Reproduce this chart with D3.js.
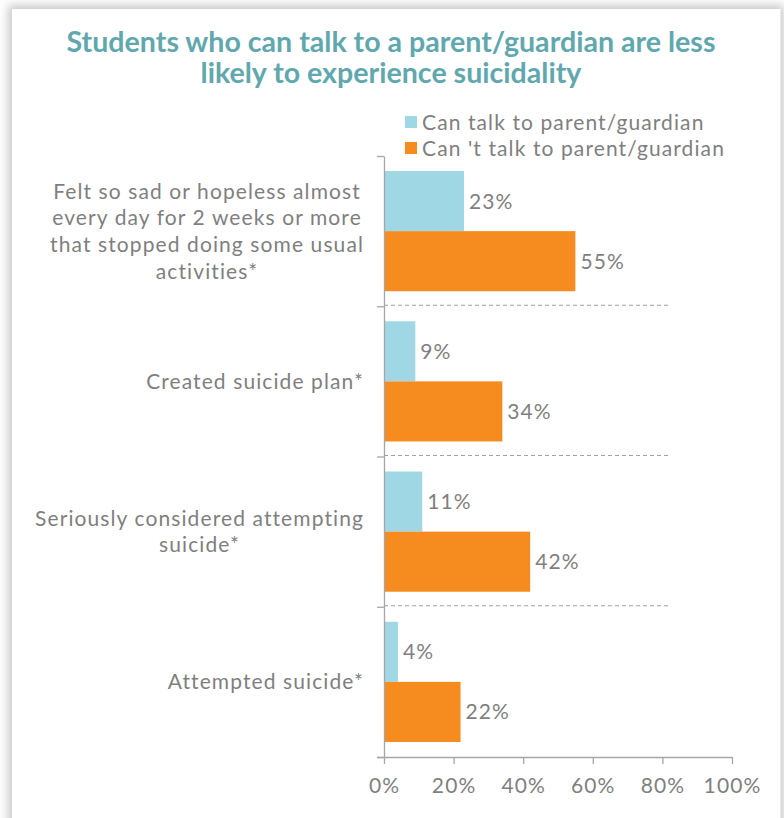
<!DOCTYPE html>
<html>
<head>
<meta charset="utf-8">
<script src="https://cdn.jsdelivr.net/npm/d3@7"></script>
<style>
  html, body { margin: 0; padding: 0; background: #ffffff; }
  svg { display: block; }
  text { font-family: Lato, "Noto Sans", sans-serif; }
</style>
</head>
<body>
<script>
// ---------- data ----------
const titleLines = [
  "Students who can talk to a parent/guardian are less",
  "likely to experience suicidality"
];
const categories = [
  "Felt so sad or hopeless almost every day for 2 weeks or more that stopped doing some usual activities*",
  "Created suicide plan*",
  "Seriously considered attempting suicide*",
  "Attempted suicide*"
];
const categoryLines = [
  ["Felt so sad or hopeless almost", "every day for 2 weeks or more", "that stopped doing some usual", "activities*"],
  ["Created suicide plan*"],
  ["Seriously considered attempting", "suicide*"],
  ["Attempted suicide*"]
];
const seriesNames = ["Can talk to parent/guardian", "Can 't talk to parent/guardian"];
const canTalk = [23, 9, 11, 4];
const cantTalk = [55, 34, 42, 22];
const xTicks = [0, 20, 40, 60, 80, 100];

// ---------- layout ----------
const W = 784, H = 818;
const colors = ["#9fd7e4", "#f68c1f"];
const textGray = "#7f7f7f";
const axisGray = "#a6a6a6";
const fs = 21;
const ls = "1.1px";

const svg = d3.select("body").append("svg").attr("width", W).attr("height", H);

// card with soft shadow
const defs = svg.append("defs");
const f = defs.append("filter").attr("id", "shadow").attr("x", "-10%").attr("y", "-10%").attr("width", "120%").attr("height", "120%");
f.append("feGaussianBlur").attr("stdDeviation", 5);
svg.append("rect").attr("width", W).attr("height", H).attr("fill", "#ffffff");
svg.append("rect").attr("x", 8).attr("y", 5).attr("width", 776).attr("height", 830)
  .attr("fill", "#c9c9c9").attr("filter", "url(#shadow)");
svg.append("rect").attr("x", 12).attr("y", 9).attr("width", 768.5).attr("height", 830).attr("fill", "#ffffff");

// title
const title = svg.append("text").attr("text-anchor", "middle").attr("fill", "#60a8ae")
  .attr("font-size", 28.6).attr("font-weight", 700);
titleLines.forEach((t, i) => {
  title.append("tspan").attr("x", 391).attr("y", 52 + i * 31).text(t);
});

// scales
const x = d3.scaleLinear().domain([0, 100]).range([384, 732]);
const y = d3.scaleBand().domain(categories).range([156, 757]).paddingInner(0.2).paddingOuter(0.1);
const ySub = d3.scaleBand().domain(seriesNames).range([0, y.bandwidth()]);
const yEdge = d3.scaleLinear().domain([0, categories.length]).range([156, 757]);

// dashed separators
svg.append("g").selectAll("line").data([1, 2, 3]).join("line")
  .attr("x1", x(0)).attr("x2", 671)
  .attr("y1", d => yEdge(d) - 1).attr("y2", d => yEdge(d) - 1)
  .attr("stroke", "#a0a0a0").attr("stroke-width", 1).attr("stroke-dasharray", "4,3");

// bars
const series = [canTalk, cantTalk];
series.forEach((vals, si) => {
  const g = svg.append("g");
  g.selectAll("rect").data(categories).join("rect")
    .attr("x", x(0))
    .attr("y", (c) => y(c) + ySub(seriesNames[si]))
    .attr("width", (c, i) => x(vals[i]) - x(0))
    .attr("height", ySub.bandwidth())
    .attr("fill", colors[si]);
  g.selectAll("text").data(categories).join("text")
    .attr("x", (c, i) => x(vals[i]) + 5)
    .attr("y", (c) => y(c) + ySub(seriesNames[si]) + ySub.bandwidth() / 2)
    .attr("dy", "0.36em")
    .attr("font-size", fs).attr("letter-spacing", ls).attr("fill", textGray)
    .text((c, i) => vals[i] + "%");
});

// y axis (boundary ticks)
const yAxis = svg.append("g").attr("transform", `translate(${x(0)},0)`)
  .call(d3.axisLeft(yEdge).tickValues(d3.range(categories.length + 1)).tickSize(7).tickSizeOuter(0).tickFormat(""));
yAxis.selectAll("path, line").attr("stroke", axisGray).attr("stroke-width", 1.3);

// x axis
const xAxis = svg.append("g").attr("transform", `translate(0,${757})`)
  .call(d3.axisBottom(x).tickValues(xTicks).tickSize(7).tickSizeOuter(0).tickPadding(10).tickFormat(d => d + "%"));
xAxis.select(".domain").attr("d", `M377,0.5H${x(100)}`);
xAxis.selectAll("path, line").attr("stroke", axisGray).attr("stroke-width", 1.3);
xAxis.selectAll("text").attr("font-size", 21).attr("letter-spacing", ls).attr("fill", textGray)
  .attr("font-family", "Lato, 'Noto Sans', sans-serif").attr("dy", "0.9em");

// category labels: block right-aligned, lines centered within block
const pitch = 26.6;
categories.forEach((c, i) => {
  const lines = categoryLines[i];
  const g = svg.append("g");
  const cy = y(c) + y.bandwidth() / 2;
  const texts = lines.map((ln, j) => g.append("text")
    .attr("y", cy + (j - (lines.length - 1) / 2) * pitch)
    .attr("dy", "0.36em").attr("font-size", fs).attr("letter-spacing", ls).attr("fill", textGray)
    .attr("text-anchor", "middle").text(ln));
  const maxW = d3.max(texts, t => t.node().getComputedTextLength());
  texts.forEach(t => t.attr("x", 364 - maxW / 2));
});

// legend
const legend = svg.append("g");
seriesNames.forEach((s, i) => {
  legend.append("rect").attr("x", 405).attr("y", 116 + i * 26).attr("width", 12).attr("height", 12).attr("fill", colors[i]);
  legend.append("text").attr("x", 422).attr("y", 122 + i * 26).attr("dy", "0.36em")
    .attr("font-size", fs).attr("letter-spacing", ls).attr("fill", textGray).text(s);
});
</script>
</body>
</html>
